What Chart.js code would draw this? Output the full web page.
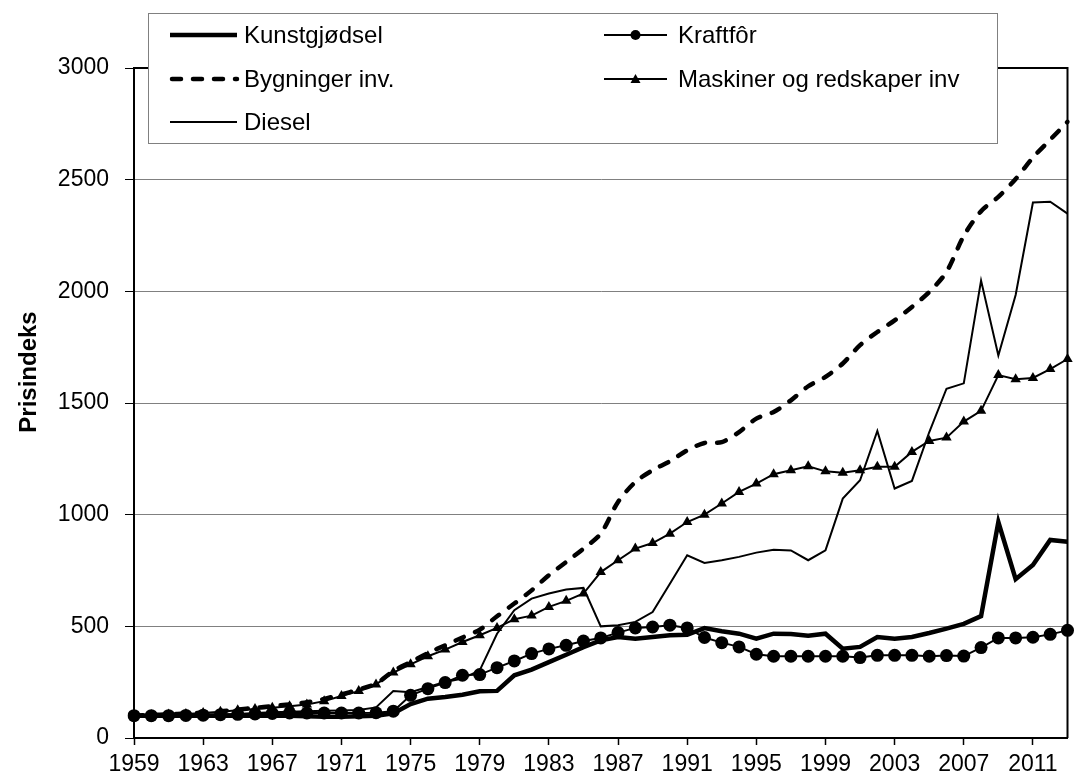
<!DOCTYPE html>
<html lang="no">
<head>
    <meta charset="UTF-8">
    <title>Prisindeks</title>
    <script src="https://cdn.jsdelivr.net/npm/chart.js"></script>
    <style>
        html, body { margin: 0; padding: 0; background: #fff; }
        #wrap { position: relative; width: 1074px; height: 778px; }
    </style>
</head>
<body>
<div id="wrap">
    <canvas id="prisChart" width="1074" height="778"></canvas>
</div>
<script>
    // År 1959-2013
    const years = [];
    for (let y = 1959; y <= 2013; y++) years.push(String(y));

    const kunstgjodsel = [
        100, 100, 100, 100, 100, 100, 100, 100, 100, 100,
        97, 95, 95, 97, 100, 110, 152, 176, 184, 194,
        209, 211, 281, 306, 340, 373, 407, 437, 452, 445,
        452, 460, 462, 492, 478, 467, 445, 467, 466, 458,
        467, 400, 408, 452, 445, 452, 470, 490, 511, 546,
        967, 711, 775, 887, 879
    ];
    const kraftfor = [
        100, 100, 100, 101, 102, 104, 106, 108, 110, 112,
        112, 112, 112, 112, 113, 120, 191, 221, 248, 281,
        284, 315, 345, 378, 399, 415, 434, 448, 472, 493,
        497, 505, 493, 450, 427, 408, 375, 366, 366, 366,
        366, 366, 360, 370, 370, 370, 366, 369, 367, 405,
        448, 448, 451, 464, 482
    ];
    const bygninger = [
        100, 103, 106, 110, 114, 120, 127, 135, 143, 150,
        160, 175, 195, 217, 243, 300, 340, 380, 415, 450,
        485, 545, 602, 661, 729, 788, 848, 915, 1057, 1146,
        1199, 1239, 1288, 1321, 1325, 1370, 1430, 1460, 1512, 1575,
        1617, 1677, 1759, 1818, 1870, 1930, 1997, 2087, 2248, 2359,
        2423, 2503, 2599, 2679, 2759
    ];
    const maskiner = [
        100, 102, 105, 108, 112, 118, 124, 130, 135, 142,
        150, 165, 188, 210, 240, 293, 330, 366, 396, 430,
        460, 493, 532, 548, 587, 614, 647, 743, 796, 848,
        873, 915, 967, 1000, 1050, 1102, 1139, 1181, 1199, 1217,
        1194, 1188, 1199, 1214, 1214, 1281, 1330, 1345, 1417, 1465,
        1625, 1606, 1612, 1652, 1697
    ];
    const diesel = [
        100, 100, 101, 102, 104, 106, 108, 112, 115, 118,
        120, 122, 123, 125, 137, 210, 205, 228, 251, 266,
        303, 467, 572, 624, 647, 665, 672, 500, 505, 520,
        564, 691, 818, 784, 796, 811, 830, 843, 840, 796,
        840, 1072, 1154, 1375, 1117, 1151, 1369, 1564, 1588, 2048,
        1713, 1984, 2398, 2401, 2348
    ];

    const yTicks = [0, 500, 1000, 1500, 2000, 2500, 3000];

    const FONT = '"Liberation Sans", Arial, sans-serif';

    // Ramme rundt plottområdet (topp og høyre)
    const framePlugin = {
        id: 'frame',
        beforeDatasetsDraw(chart) {
            const a = chart.chartArea;
            const ctx = chart.ctx;
            ctx.save();
            ctx.strokeStyle = '#000';
            ctx.lineWidth = 2;
            ctx.beginPath();
            ctx.moveTo(a.left, a.top);
            ctx.lineTo(a.right, a.top);
            ctx.lineTo(a.right, a.bottom);
            ctx.stroke();
            ctx.restore();
        }
    };

    // Aksetittel, litt over midten som i originalen
    const yTitlePlugin = {
        id: 'yTitle',
        afterDraw(chart) {
            const ctx = chart.ctx;
            ctx.save();
            ctx.translate(29, 372);
            ctx.rotate(-Math.PI / 2);
            ctx.font = 'bold 24px ' + FONT;
            ctx.fillStyle = '#000';
            ctx.textAlign = 'center';
            ctx.textBaseline = 'middle';
            ctx.fillText('Prisindeks', 0, 0);
            ctx.restore();
        }
    };

    // Tegnforklaring i boks over plottet
    const legendPlugin = {
        id: 'boxLegend',
        afterDraw(chart) {
            const ctx = chart.ctx;
            const box = { x: 148, y: 13, w: 849, h: 130 };
            const slots = [
                { x1: 170, x2: 237, y: 35, tx: 244 },
                { x1: 604, x2: 667, y: 35, tx: 678 },
                { x1: 170, x2: 237, y: 79, tx: 244 },
                { x1: 604, x2: 667, y: 79, tx: 678 },
                { x1: 170, x2: 237, y: 122, tx: 244 }
            ];
            ctx.save();
            ctx.fillStyle = '#fff';
            ctx.fillRect(box.x, box.y, box.w, box.h);
            ctx.strokeStyle = '#808080';
            ctx.lineWidth = 1;
            ctx.strokeRect(box.x + 0.5, box.y + 0.5, box.w, box.h);

            chart.data.datasets.forEach((ds, i) => {
                const s = slots[i];
                ctx.save();
                ctx.strokeStyle = '#000';
                ctx.lineWidth = ds.borderWidth;
                ctx.setLineDash(ds.borderDash || []);
                ctx.lineCap = ds.borderCapStyle || 'butt';
                ctx.beginPath();
                ctx.moveTo(s.x1 + (ds.borderDash ? 2 : 0), s.y);
                ctx.lineTo(s.x2, s.y);
                ctx.stroke();
                ctx.setLineDash([]);
                const mx = (s.x1 + s.x2) / 2;
                ctx.fillStyle = '#000';
                if (ds.pointStyle === 'circle' && ds.pointRadius > 0) {
                    ctx.beginPath();
                    ctx.arc(mx, s.y, 5, 0, Math.PI * 2);
                    ctx.fill();
                } else if (ds.pointStyle === 'triangle' && ds.pointRadius > 0) {
                    ctx.beginPath();
                    ctx.moveTo(mx, s.y - 5);
                    ctx.lineTo(mx + 5, s.y + 4);
                    ctx.lineTo(mx - 5, s.y + 4);
                    ctx.closePath();
                    ctx.fill();
                }
                ctx.font = '24px ' + FONT;
                ctx.textAlign = 'left';
                ctx.textBaseline = 'middle';
                ctx.fillText(ds.label, s.tx, s.y + 1);
                ctx.restore();
            });
            ctx.restore();
        }
    };

    const ctx = document.getElementById('prisChart').getContext('2d');
    const chart = new Chart(ctx, {
        type: 'line',
        data: {
            labels: years,
            datasets: [
                {
                    label: 'Kunstgjødsel',
                    data: kunstgjodsel,
                    borderColor: '#000',
                    borderWidth: 4.5,
                    pointRadius: 0,
                    pointStyle: false,
                    tension: 0
                },
                {
                    label: 'Kraftfôr',
                    data: kraftfor,
                    borderColor: '#000',
                    backgroundColor: '#000',
                    borderWidth: 2,
                    pointStyle: 'circle',
                    pointRadius: 6.5,
                    pointBorderWidth: 0,
                    tension: 0
                },
                {
                    label: 'Bygninger inv.',
                    data: bygninger,
                    borderColor: '#000',
                    borderWidth: 4.5,
                    borderDash: [9, 12],
                    borderCapStyle: 'round',
                    pointRadius: 0,
                    pointStyle: false,
                    tension: 0.3
                },
                {
                    label: 'Maskiner og redskaper inv',
                    data: maskiner,
                    borderColor: '#000',
                    backgroundColor: '#000',
                    borderWidth: 2,
                    pointStyle: 'triangle',
                    pointRadius: 6,
                    pointBorderWidth: 0,
                    tension: 0
                },
                {
                    label: 'Diesel',
                    data: diesel,
                    borderColor: '#000',
                    borderWidth: 2,
                    pointRadius: 0,
                    pointStyle: false,
                    tension: 0
                }
            ]
        },
        options: {
            responsive: false,
            animation: false,
            devicePixelRatio: 1,
            layout: { padding: { top: 68, right: 2, left: 0, bottom: 0 } },
            plugins: {
                legend: { display: false },
                tooltip: { enabled: false }
            },
            scales: {
                x: {
                    offset: false,
                    grid: {
                        drawOnChartArea: false,
                        drawTicks: true,
                        tickLength: 7,
                        tickWidth: 1.5,
                        tickColor: c => (c.index % 4 === 0 ? '#000' : 'rgba(0,0,0,0)')
                    },
                    border: { color: '#000', width: 2 },
                    ticks: {
                        autoSkip: false,
                        maxRotation: 0,
                        minRotation: 0,
                        color: '#000',
                        padding: 6,
                        font: { family: FONT, size: 23 },
                        callback: (v, i) => (i % 4 === 0 ? years[i] : '')
                    },
                    afterFit: s => { s.height = 40; }
                },
                y: {
                    min: yTicks[0],
                    max: yTicks[yTicks.length - 1],
                    afterBuildTicks: s => { s.ticks = yTicks.map(v => ({ value: v })); },
                    grid: {
                        color: '#808080',
                        lineWidth: 1,
                        tickColor: '#000',
                        tickLength: 9
                    },
                    border: { color: '#000', width: 2 },
                    ticks: {
                        color: '#000',
                        padding: 16,
                        font: { family: FONT, size: 23 },
                        callback: v => String(v)
                    },
                    afterFit: s => { s.width = 134; }
                }
            }
        },
        plugins: [framePlugin, yTitlePlugin, legendPlugin]
    });
</script>
</body>
</html>
